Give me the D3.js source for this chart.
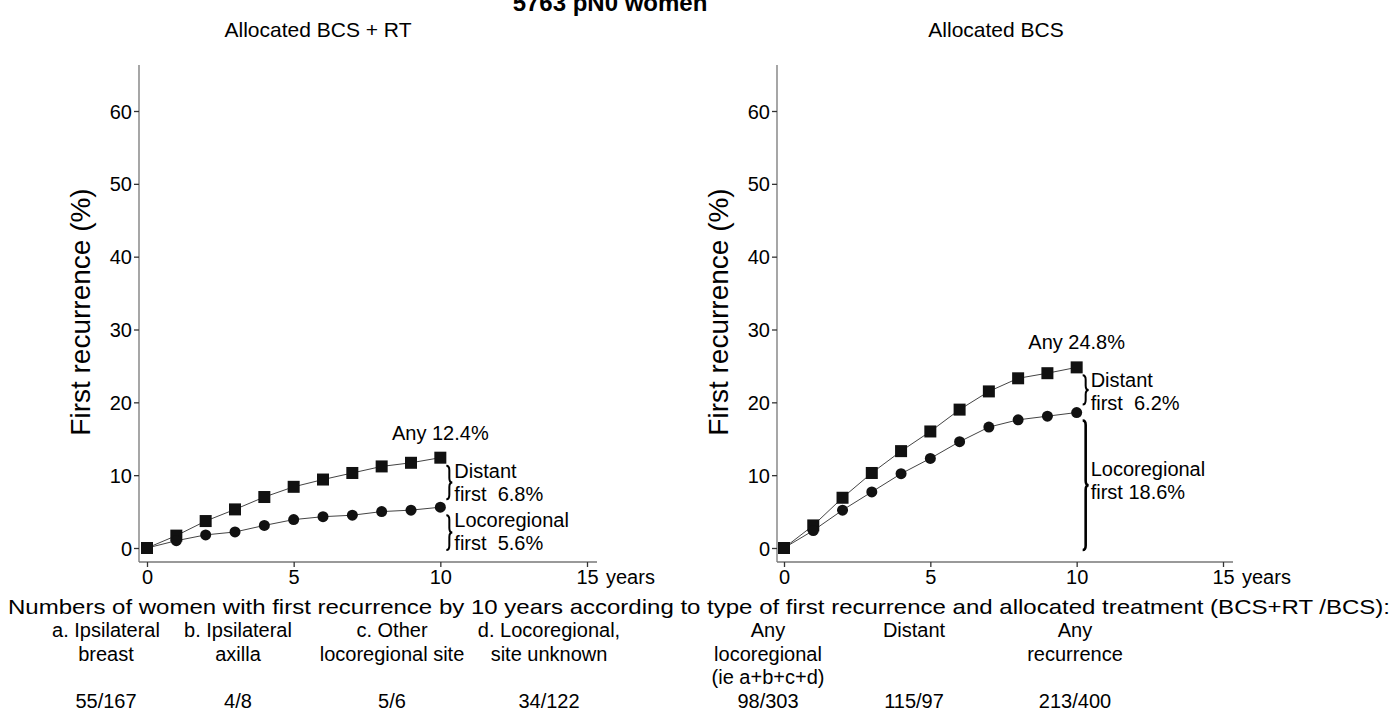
<!DOCTYPE html>
<html><head><meta charset="utf-8">
<script src="https://cdn.jsdelivr.net/npm/d3@7/dist/d3.min.js"></script>
<style>
html,body{margin:0;padding:0;background:#fff;}
svg{display:block;font-family:"Liberation Sans",Arial,sans-serif;}
text{white-space:pre;}
</style></head>
<body>
<svg id="chart" width="1395" height="727"></svg>
<script>
// ---- data ----
const years = [0,1,2,3,4,5,6,7,8,9,10];
const rtAny  = [0,1.7,3.7,5.3,7.0,8.4,9.4,10.3,11.2,11.7,12.4];
const rtLoco = [0,1.0,1.8,2.2,3.1,3.9,4.3,4.5,5.0,5.2,5.6];
const bcsAny  = [0,3.1,6.9,10.3,13.3,16.0,19.0,21.5,23.3,24.0,24.8];
const bcsLoco = [0,2.4,5.2,7.7,10.2,12.3,14.6,16.6,17.6,18.1,18.6];
const xTicks = [0,5,10,15];
const yTicks = [0,10,20,30,40,50,60];
const panelTitles = ["Allocated BCS + RT","Allocated BCS"];
const mainTitle = "5763 pN0 women";
const anyLabels = ["Any 12.4%","Any 24.8%"];
const distantLabels = [["Distant","first  6.8%"],["Distant","first  6.2%"]];
const locoLabels = [["Locoregional","first  5.6%"],["Locoregional","first 18.6%"]];
const footHeader = "Numbers of women with first recurrence by 10 years according to type of first recurrence and allocated treatment (BCS+RT /BCS):";
const colHeads = [
  ["a. Ipsilateral","breast"],
  ["b. Ipsilateral","axilla"],
  ["c. Other","locoregional site"],
  ["d. Locoregional,","site unknown"],
  ["Any","locoregional","(ie a+b+c+d)"],
  ["Distant"],
  ["Any","recurrence"]
];
const colCounts = ["55/167","4/8","5/6","34/122","98/303","115/97","213/400"];

// ---- layout ----
const svg = d3.select("#chart");
const panels = [
  {axisX:139, x0:147, x15:587, xEnd:597, any:rtAny, loco:rtLoco, titleX:318, ytitleX:90},
  {axisX:777, x0:784, x15:1223, xEnd:1233, any:bcsAny, loco:bcsLoco, titleX:996, ytitleX:728}
];
const yTop = 65, axisY = 562;
const y = d3.scaleLinear().domain([0,60]).range([548,111]);
const axisCol = "#777";
const tickFs = 20, annFs = 20;

svg.append("text").attr("x",610).attr("y",11).attr("text-anchor","middle")
  .attr("font-size",24).attr("font-weight","bold").text(mainTitle);

panels.forEach((p,i)=>{
  const x = d3.scaleLinear().domain([0,15]).range([p.x0,p.x15]);
  const g = svg.append("g");
  g.append("text").attr("x",p.titleX).attr("y",37).attr("text-anchor","middle")
    .attr("font-size",21).text(panelTitles[i]);
  g.append("text").attr("transform",`translate(${p.ytitleX},312) rotate(-90)`)
    .attr("text-anchor","middle").attr("font-size",28).text("First recurrence (%)");
  g.append("line").attr("x1",p.axisX).attr("x2",p.axisX).attr("y1",yTop).attr("y2",axisY)
    .attr("stroke",axisCol).attr("stroke-width",1.3);
  g.append("line").attr("x1",p.axisX).attr("x2",p.xEnd).attr("y1",axisY).attr("y2",axisY)
    .attr("stroke",axisCol).attr("stroke-width",1.3);
  const ya = g.append("g").attr("transform",`translate(${p.axisX},0)`)
    .call(d3.axisLeft(y).tickValues(yTicks).tickSize(5).tickPadding(2).tickFormat(d3.format("d")));
  ya.select(".domain").remove();
  ya.selectAll("line").attr("stroke","#333").attr("stroke-width",1.3);
  ya.selectAll("text").attr("font-size",tickFs).attr("font-family","Liberation Sans, Arial").attr("fill","#000").attr("dy","0.35em");
  const xa = g.append("g").attr("transform",`translate(0,${axisY})`)
    .call(d3.axisBottom(x).tickValues(xTicks).tickSize(5).tickPadding(3).tickFormat(d3.format("d")));
  xa.select(".domain").remove();
  xa.selectAll("line").attr("stroke","#333").attr("stroke-width",1.3);
  xa.selectAll("text").attr("font-size",tickFs).attr("font-family","Liberation Sans, Arial").attr("fill","#000");
  g.append("text").attr("x",x(15)+19).attr("y",axisY+8+0.71*tickFs).attr("font-size",tickFs).text("years");

  const line = d3.line().x((d,j)=>x(years[j])).y(d=>y(d));
  g.append("path").datum(p.loco).attr("d",line).attr("fill","none").attr("stroke","#444").attr("stroke-width",1);
  g.append("path").datum(p.any).attr("d",line).attr("fill","none").attr("stroke","#444").attr("stroke-width",1);
  g.selectAll(".sq").data(p.any).enter().append("rect")
    .attr("x",(d,j)=>x(years[j])-6).attr("y",d=>y(d)-6).attr("width",12).attr("height",12).attr("fill","#111");
  g.selectAll(".ci").data(p.loco).enter().append("circle")
    .attr("cx",(d,j)=>x(years[j])).attr("cy",d=>y(d)).attr("r",5.5).attr("fill","#111");

  const a10 = p.any[10], l10 = p.loco[10];
  const bx = x(10)+6;
  function brace(y1,y2,w,sw){
    const ym=(y1+y2)/2, q=w/2;
    g.append("path").attr("d",
      `M${bx},${y1} Q${bx+q},${y1} ${bx+q},${y1+q*1.5} L${bx+q},${ym-q*1.5} Q${bx+q},${ym} ${bx+w},${ym} Q${bx+q},${ym} ${bx+q},${ym+q*1.5} L${bx+q},${y2-q*1.5} Q${bx+q},${y2} ${bx},${y2}`)
      .attr("fill","none").attr("stroke","#000").attr("stroke-width",sw);
  }
  brace(y(a10)+8, y(l10)-8, 6, 2);
  brace(y(l10)+8, y(0)+2, 6, i===1?2.6:2);
  const tx = x(10)+14;
  g.append("text").attr("x",x(10)).attr("y",y(a10)-18).attr("text-anchor","middle").attr("font-size",annFs).text(anyLabels[i]);
  const dy = i===0 ? (y(a10)+y(l10))/2 : y(a10)+24;
  g.append("text").attr("x",tx).attr("y",dy-4).attr("font-size",annFs).text(distantLabels[i][0]);
  g.append("text").attr("x",tx).attr("y",dy+19).attr("font-size",annFs).text(distantLabels[i][1]);
  const ly = i===0 ? (y(l10)+y(0))/2+3 : (y(l10)+y(0))/2;
  g.append("text").attr("x",tx).attr("y",ly-4).attr("font-size",annFs).text(locoLabels[i][0]);
  g.append("text").attr("x",tx).attr("y",ly+19).attr("font-size",annFs).text(locoLabels[i][1]);
});

// footer
svg.append("text").attr("x",8).attr("y",614).attr("font-size",21)
  .attr("textLength",1382).attr("lengthAdjust","spacingAndGlyphs").text(footHeader);
const colX = [106,238,392,549,768,914,1075];
colHeads.forEach((lines,i)=>{
  lines.forEach((t,k)=>{
    svg.append("text").attr("x",colX[i]).attr("y",637+k*23.5).attr("text-anchor","middle")
      .attr("font-size",20).text(t);
  });
  svg.append("text").attr("x",colX[i]).attr("y",708).attr("text-anchor","middle")
    .attr("font-size",20).text(colCounts[i]);
});
</script>
</body></html>
